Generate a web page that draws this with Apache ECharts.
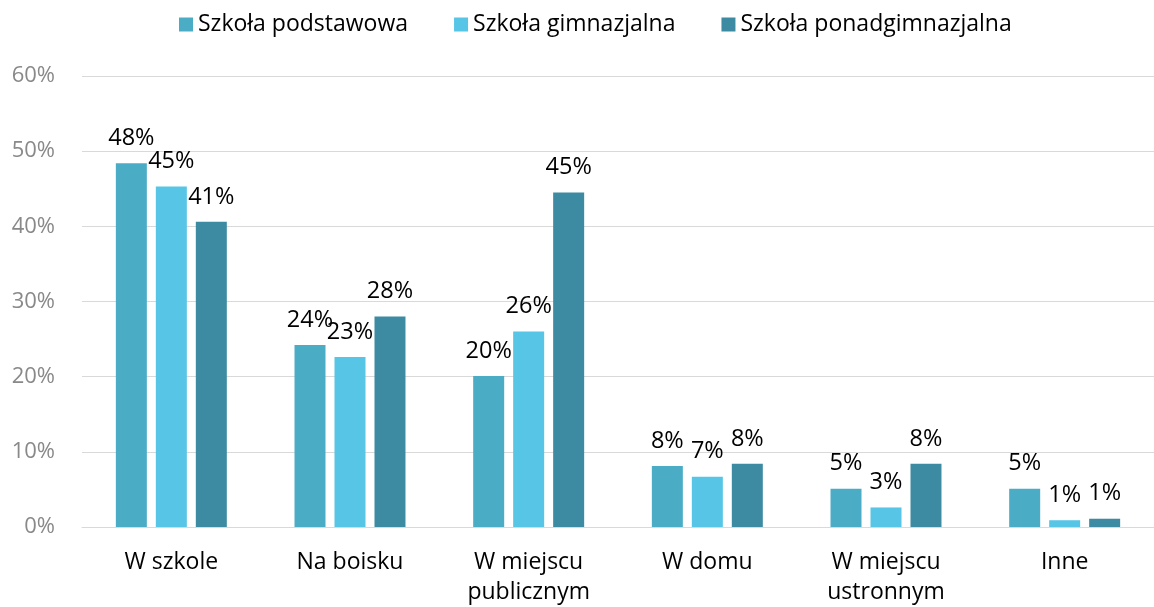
<!DOCTYPE html>
<html>
<head>
<meta charset="utf-8">
<script src="https://cdn.jsdelivr.net/npm/echarts@6/dist/echarts.min.js"></script>
<style>html,body{margin:0;padding:0;background:#fff}#c{width:1154px;height:607px}</style>
</head>
<body>
<div id="c"></div>
<script>
const categories = ['W szkole', 'Na boisku', 'W miejscu\npublicznym', 'W domu', 'W miejscu\nustronnym', 'Inne'];
const seriesNames = ['Szkoła podstawowa', 'Szkoła gimnazjalna', 'Szkoła ponadgimnazjalna'];
const podstawowa = [48.4, 24.2, 20.1, 8.1, 5.1, 5.1];
const gimnazjalna = [45.3, 22.6, 26.0, 6.7, 2.6, 0.9];
const ponadgimnazjalna = [40.6, 28.0, 44.5, 8.4, 8.4, 1.1];
const yTicks = [0, 10, 20, 30, 40, 50, 60];
const colors = ['#4BACC6', '#57C5E5', '#3D8BA2'];

const font = 'Open Sans';
const chart = echarts.init(document.getElementById('c'));
const mk = (name, data, color) => ({
  name: name,
  type: 'bar',
  data: data,
  barWidth: 31,
  barGap: '29%',
  itemStyle: { color: color },
  label: {
    show: true,
    position: 'top',
    distance: 13,
    fontFamily: font,
    fontSize: 23.5,
    color: '#000',
    formatter: p => Math.round(p.value) + '%'
  }
});
chart.setOption({
  animation: false,
  textStyle: { fontFamily: font },
  legend: {
    top: 8,
    left: 174,
    itemWidth: 14,
    itemHeight: 14,
    itemGap: 46,
    icon: 'rect',
    textStyle: { fontFamily: font, fontSize: 23, color: '#000' },
    data: seriesNames
  },
  grid: { left: 82, width: 1082, top: 76, height: 455, containLabel: false },
  xAxis: {
    type: 'category',
    data: categories,
    axisTick: { show: false },
    axisLine: { lineStyle: { color: '#d9d9d9' } },
    axisLabel: { fontFamily: font, fontSize: 23, color: '#000', margin: 20, lineHeight: 30 }
  },
  yAxis: {
    type: 'value',
    min: yTicks[0],
    max: yTicks[yTicks.length - 1],
    interval: 10,
    axisLine: { show: false },
    axisTick: { show: false },
    splitLine: { lineStyle: { color: '#d9d9d9' } },
    axisLabel: { fontFamily: font, fontSize: 22, color: '#898989', margin: 27, formatter: '{value}%' }
  },
  series: [
    mk(seriesNames[0], podstawowa, colors[0]),
    mk(seriesNames[1], gimnazjalna, colors[1]),
    mk(seriesNames[2], ponadgimnazjalna, colors[2])
  ]
});
</script>
</body>
</html>
